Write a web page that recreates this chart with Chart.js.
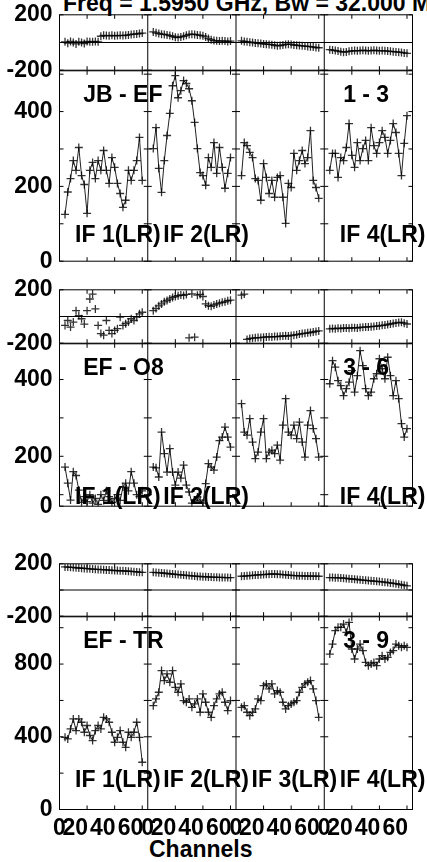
<!DOCTYPE html>
<html>
<head>
<meta charset="utf-8">
<script src="https://cdn.jsdelivr.net/npm/chart.js@4.4.1/dist/chart.umd.min.js"></script>
<style>
html, body { margin: 0; padding: 0; background: #fff; overflow: hidden; width: 427px; height: 862px; }
canvas { position: absolute; left: 0; }
.txt { position: absolute; font: bold 23px "Liberation Sans", Arial, sans-serif; line-height: 23px; white-space: nowrap; color: #000; }
</style>
</head>
<body>
<div class="txt" style="left:63px;top:-8px">Freq = 1.5950 GHz, Bw = 32.000 MHz</div>
<div class="txt" style="left:149px;top:838px">Channels</div>
<script>
// channels plotted in every IF
const channels = [4,6,8,10,12,14,16,18,20,22,24,26,28,30,32,34,36,38,40,42,44,46,48,50,52,54,56,58,60];

const baselines = ['JB - EF', 'EF - O8', 'EF - TR'];
const antPairs = ['1 - 3', '3 - 6', '3 - 9'];
const ifNames = ['IF 1(LR)', 'IF 2(LR)', 'IF 3(LR)', 'IF 4(LR)'];
const ifShown = [[0, 1, 3], [0, 1, 3], [0, 1, 2, 3]];

// JB - EF
const ampJBEF = [
  [125,185,221,269,243,304,229,205,128,243,264,221,269,243,296,243,208,277,251,208,181,144,163,243,216,243,269,331,216],
  [301,357,248,184,269,336,395,469,496,437,456,483,475,461,429,371,301,237,229,203,277,251,317,235,304,251,195,235,277],
  [229,317,309,291,277,221,216,163,261,224,181,216,171,224,229,171,101,208,197,288,243,269,296,261,277,349,216,197,168],
  [243,288,288,224,277,269,304,368,283,251,317,269,301,323,269,357,309,288,317,349,331,288,323,368,344,288,229,315,389]
];
const phaseJBEF = [
  [5,-5,8,0,-10,5,0,-8,8,5,5,8,5,45,52,50,48,52,48,50,52,50,52,55,58,60,62,65,68],
  [76,70,65,60,58,55,50,45,38,36,40,45,52,58,60,58,55,52,48,40,28,20,14,12,10,12,10,8,10],
  [12,8,5,2,0,-3,-6,-8,-10,-12,-14,-16,-20,-24,-22,-18,-14,-12,-14,-18,-20,-22,-24,-26,-28,-30,-33,-36,-38],
  [-52,-55,-58,-62,-66,-70,-68,-64,-60,-58,-60,-58,-56,-58,-60,-58,-56,-58,-60,-58,-60,-62,-64,-66,-68,-70,-72,-75,-78]
];

// EF - O8
const ampEFO8 = [
  [172,130,86,160,150,112,80,95,82,100,78,90,75,100,85,110,95,80,90,100,85,120,130,110,160,130,100,95,110],
  [172,170,146,263,207,159,220,159,125,159,143,177,125,107,78,86,94,86,78,129,181,172,164,198,241,250,276,250,224],
  [337,263,255,298,237,194,211,263,298,194,211,216,207,229,190,281,350,263,255,281,246,289,237,198,281,319,272,246,198],
  [389,449,432,397,384,358,376,393,423,367,410,475,436,376,358,367,402,415,454,428,402,458,410,358,397,350,285,250,272]
];
const phaseEFO8 = [
  [-67,-30,-79,-42,44,7,-17,-57,44,131,168,57,-67,-128,-140,-30,-104,-128,-104,-91,-5,-67,-54,-42,-17,-30,-5,20,32],
  [44,60,80,94,110,120,131,143,150,156,161,158,165,-160,170,-155,160,165,150,94,81,76,86,94,100,106,110,118,122],
  [160,168,-172,-165,-162,-160,-158,-158,-155,-153,-152,-153,-150,-150,-148,-146,-145,-146,-142,-140,-136,-132,-128,-126,-122,-120,-116,-112,-108],
  [-92,-90,-91,-88,-90,-87,-86,-88,-85,-84,-86,-82,-80,-79,-78,-76,-74,-72,-70,-66,-64,-60,-56,-52,-48,-45,-44,-50,-56]
];

// EF - TR
const ampEFTR = [
  [397,388,443,498,434,498,480,425,462,407,379,434,462,443,507,498,480,425,370,397,434,370,342,425,397,425,480,397,260],
  [571,608,645,764,709,746,700,764,672,645,691,599,590,608,562,581,608,535,636,590,535,507,571,608,636,645,590,544,599],
  [562,571,535,516,535,553,608,599,681,691,663,691,636,654,645,590,553,571,581,590,599,645,672,691,700,709,663,599,507],
  [855,910,984,1002,1002,1020,974,1029,883,828,883,910,874,809,791,801,809,791,828,846,828,837,864,874,910,901,892,901,892]
];
const phaseEFTR = [
  [176,175,173,172,170,168,166,165,163,162,160,158,157,156,155,153,152,150,149,148,147,146,145,143,142,140,138,136,135],
  [135,133,132,130,128,126,124,122,120,118,116,114,112,110,108,106,104,103,102,101,100,99,98,97,96,96,95,95,94],
  [105,106,108,110,112,114,115,117,118,120,121,122,122,121,120,118,116,114,112,110,109,108,108,107,107,106,106,106,105],
  [95,95,94,93,92,90,88,86,84,82,80,78,76,74,72,70,68,66,64,62,60,57,54,51,48,44,40,36,32]
];

const ampData = [ampJBEF, ampEFO8, ampEFTR];
const phaseData = [phaseJBEF, phaseEFO8, phaseEFTR];

// axis ticks
const phaseTicks = [-200, 0, 200];
const phaseTickLabels = ['-200', '', '200'];
const ampTicks = [[0,100,200,300,400,500], [70,100,200,300,400], [0,200,400,600,800,1000]];
const ampTickLabels = [['0','','200','','400',''], ['0','','200','','400'], ['0','','400','','800','']];
const chanTicks = [0, 20, 40, 60];

// page layout (pixels) and text placement (data units)
const IFW = 64;
const rows = [
  { phase: [14, 70],   amp: [70, 261],  ampMin: 0,  ampMax: 509,  nameY: 443, ifY: 69 },
  { phase: [289, 343], amp: [343, 506], ampMin: 70, ampMax: 493,  nameY: 428, ifY: 93 },
  { phase: [563, 616], amp: [616, 809], ampMin: 0,  ampMax: 1060, nameY: 922, ifY: 161 }
];
const FONT = '"Liberation Sans", Arial, sans-serif';
Chart.defaults.font.family = FONT;

const frame = {
  id: 'frame',
  afterDatasetsDraw(chart, args, o) {
    const { ctx, chartArea: a, scales: { x, y } } = chart;
    const T = 4;
    ctx.save();
    ctx.strokeStyle = '#000';
    ctx.lineWidth = 1;
    const line = (x1, y1, x2, y2) => { ctx.beginPath(); ctx.moveTo(x1, y1); ctx.lineTo(x2, y2); ctx.stroke(); };
    ctx.strokeRect(a.left, a.top, a.right - a.left, a.bottom - a.top);
    for (let k = 1; k < 4; k++) {
      const px = x.getPixelForValue(k * IFW);
      line(px, a.top, px, a.bottom);
    }
    if (o.zero) {
      const py = y.getPixelForValue(0);
      line(a.left, py, a.right, py);
    }
    for (let k = 0; k < 4; k++) {
      chanTicks.forEach(c => {
        if (c === 0) return;
        const px = x.getPixelForValue(k * IFW + c);
        line(px, a.top, px, a.top + T);
        line(px, a.bottom, px, a.bottom - T);
      });
    }
    y.ticks.forEach(t => {
      const py = y.getPixelForValue(t.value);
      for (let k = 0; k <= 4; k++) {
        const px = x.getPixelForValue(k * IFW);
        if (k > 0) line(px - T, py, px, py);
        if (k < 4) line(px, py, px + T, py);
      }
    });
    // channel labels under the last panel
    if (o.chanLabels) {
      ctx.fillStyle = '#000';
      ctx.font = 'bold 23px ' + FONT;
      ctx.textBaseline = 'alphabetic';
      for (let k = 0; k < 4; k++) {
        chanTicks.forEach(c => {
          const px = x.getPixelForValue(k * IFW + c);
          ctx.textAlign = c === 0 ? 'center' : 'right';
          ctx.fillText(String(c), c === 0 ? px : px + 1, a.bottom + 25);
        });
      }
    }
    ctx.restore();
  }
};

const panelText = {
  id: 'panelText',
  afterDatasetsDraw(chart, args, o) {
    if (!o.items) return;
    const { ctx, scales: { x, y } } = chart;
    ctx.save();
    ctx.fillStyle = '#000';
    ctx.font = 'bold 23px ' + FONT;
    ctx.textAlign = 'left';
    ctx.textBaseline = 'middle';
    o.items.forEach(it => ctx.fillText(it.text, x.getPixelForValue(it.x), y.getPixelForValue(it.y)));
    ctx.restore();
  }
};

function makePanel(r, kind) {
  const L = rows[r];
  const [top, bottom] = L[kind];
  const isBottom = kind === 'amp' && r === rows.length - 1;
  const canvasTop = top - 20;
  const H = isBottom ? 862 - canvasTop : bottom - canvasTop + 21;
  const cv = document.createElement('canvas');
  cv.width = 427;
  cv.height = H;
  cv.style.top = canvasTop + 'px';
  document.body.appendChild(cv);

  const src = kind === 'amp' ? ampData[r] : phaseData[r];
  const datasets = src.map((vals, k) => ({
    data: vals.map((v, i) => ({ x: k * IFW + channels[i], y: v })),
    showLine: kind === 'amp',
    borderColor: '#222',
    borderWidth: 1,
    pointStyle: 'cross',
    pointRadius: 4,
    pointBorderWidth: 1.3,
    pointBorderColor: 'rgba(0,0,0,0.8)'
  }));

  const yTicks = kind === 'amp' ? ampTicks[r] : phaseTicks;
  const yLabels = kind === 'amp' ? ampTickLabels[r] : phaseTickLabels;

  const items = [];
  if (kind === 'amp') {
    items.push({ text: baselines[r], x: 17.2, y: L.nameY });
    items.push({ text: antPairs[r], x: 205.7, y: L.nameY });
    ifShown[r].forEach(k => items.push({ text: ifNames[k], x: k * IFW + 11.3, y: L.ifY }));
  }

  new Chart(cv, {
    type: 'scatter',
    data: { datasets },
    options: {
      responsive: false,
      animation: false,
      layout: { padding: { left: 0, right: 14.5, top: 20.5, bottom: isBottom ? 52.5 : 20.5 } },
      scales: {
        x: { type: 'linear', min: 0, max: 4 * IFW, display: false },
        y: {
          type: 'linear', min: kind === 'amp' ? L.ampMin : -200, max: kind === 'amp' ? L.ampMax : 200,
          grid: { display: false, drawTicks: false, tickLength: 0 },
          border: { display: false },
          afterBuildTicks: s => { s.ticks = yTicks.map(v => ({ value: v })); },
          afterFit: s => { s.width = 59.5; },
          ticks: {
            autoSkip: false, padding: 7, color: '#000',
            font: { size: 23, weight: 'bold' },
            callback: (v, i) => yLabels[i]
          }
        }
      },
      plugins: {
        legend: { display: false },
        tooltip: { enabled: false },
        frame: { zero: kind === 'phase', chanLabels: isBottom },
        panelText: { items }
      }
    },
    plugins: [frame, panelText]
  });
}

for (let r = 0; r < rows.length; r++) {
  makePanel(r, 'phase');
  makePanel(r, 'amp');
}
</script>
</body>
</html>
